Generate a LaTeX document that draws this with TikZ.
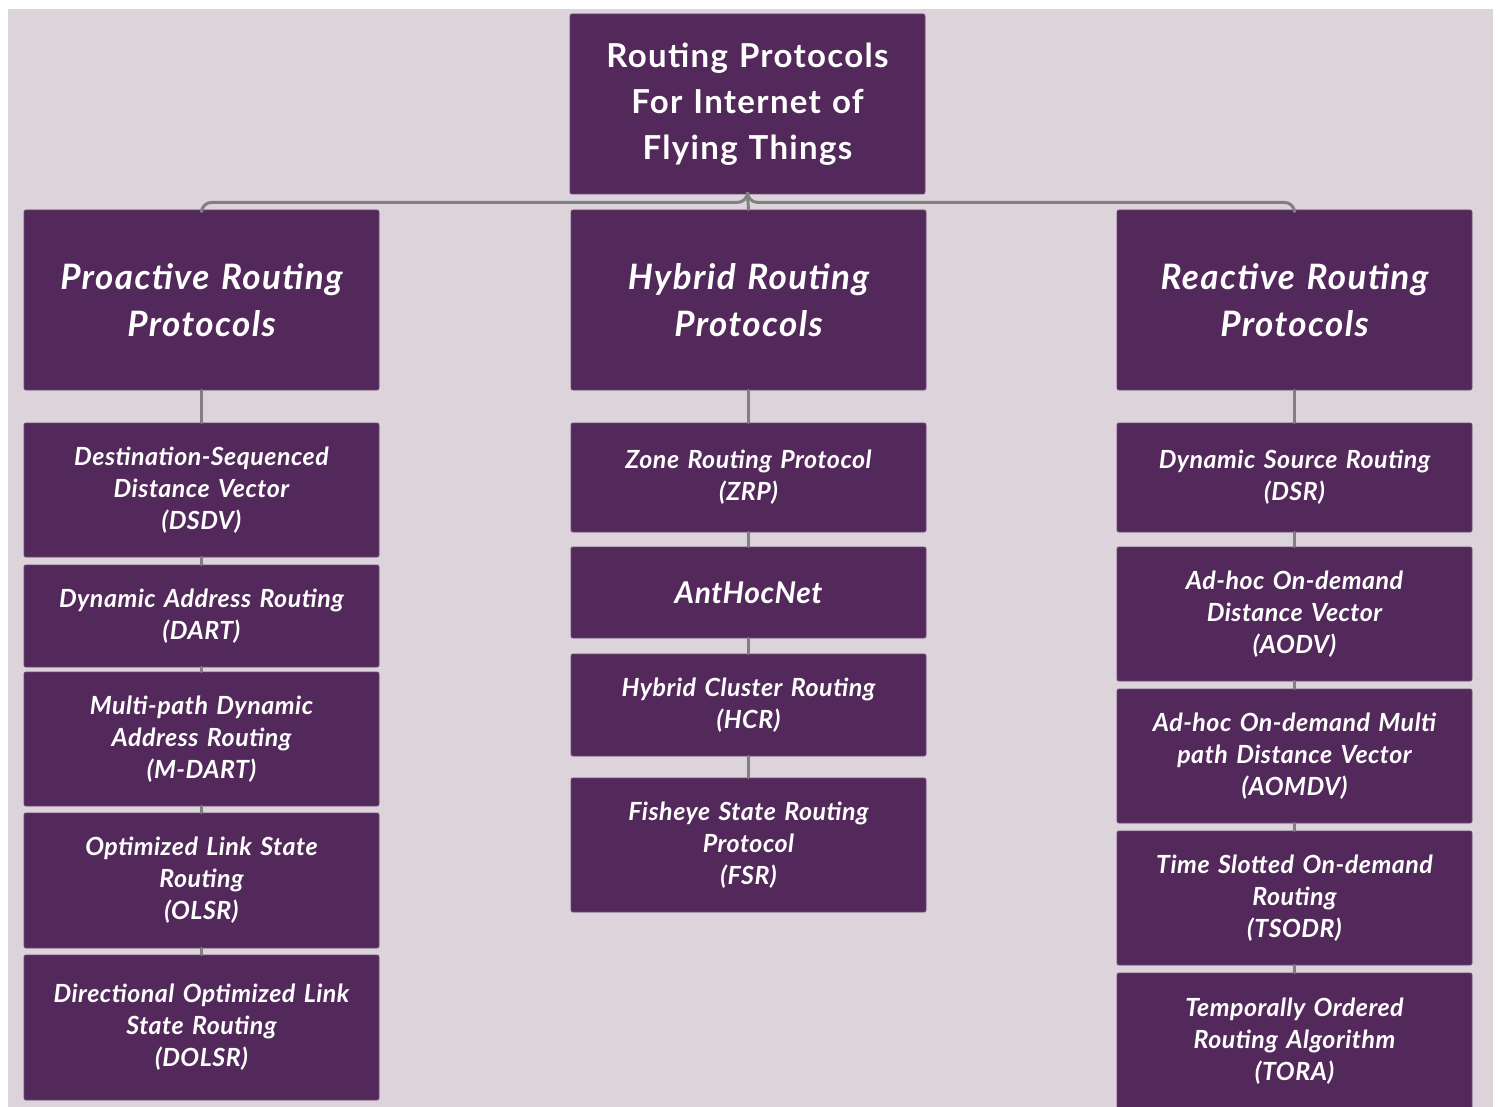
\documentclass[tikz,border=0pt]{standalone}
\usepackage{fontspec}
\setmainfont{Lato}
\newfontfamily\spaced[LetterSpace=4]{Lato}
\newfontfamily\lightspaced[LetterSpace=2]{Lato}
\definecolor{canvas}{HTML}{DCD3DB}
\definecolor{plum}{HTML}{53285A}
\definecolor{plumedge}{HTML}{6E4A74}
\definecolor{link}{HTML}{808080}
\begin{document}
\begin{tikzpicture}[x=1pt,y=-1pt,
  box/.style={fill=plum, draw=plumedge, line width=0.8pt, rounded corners=2pt,
    text=white, align=center, minimum width=355pt, text width=345pt, inner sep=0pt},
  rootbox/.style={box, font=\spaced\fontsize{33}{46}\selectfont\bfseries},
  catbox/.style={box, minimum height=180pt, font=\spaced\fontsize{35}{47}\selectfont\bfseries\itshape},
  itembox/.style={box, font=\lightspaced\fontsize{25}{32}\selectfont\bfseries\itshape},
  wire/.style={draw=link, line width=3pt, line cap=round}
]
\useasboundingbox (0,0) rectangle (1501,1107);
\fill[white] (0,0) rectangle (1501,1107);
\fill[canvas] (8,9) rectangle (1493,1107);
\begin{scope}
\clip (8,9) rectangle (1493,1107);

% root and categories
\node[rootbox, minimum height=180pt] (root) at (747.5,104) {Routing Protocols\\For Internet of\\Flying Things};
\node[catbox] (pro) at (201.5,300) {Proactive Routing\\Protocols};
\node[catbox] (hyb) at (748.5,300) {Hybrid Routing\\Protocols};
\node[catbox] (rea) at (1294.5,300) {Reactive Routing\\Protocols};

% proactive column
\node[itembox, minimum height=134pt] (dsdv) at (201.5,490) {Destination-Sequenced\\Distance Vector\\(DSDV)};
\node[itembox, minimum height=102pt] (dart) at (201.5,616) {Dynamic Address Routing\\(DART)};
\node[itembox, minimum height=134pt] (mdart) at (201.5,739) {Multi-path Dynamic\\Address Routing\\(M-DART)};
\node[itembox, minimum height=135pt] (olsr) at (201.5,880.5) {Optimized Link State\\Routing\\(OLSR)};
\node[itembox, minimum height=145pt] (dolsr) at (201.5,1027.5) {Directional Optimized Link\\State Routing\\(DOLSR)};

% hybrid column
\node[itembox, minimum height=109pt] (zrp) at (748.5,477.5) {Zone Routing Protocol\\(ZRP)};
\node[itembox, minimum height=91pt, font=\lightspaced\fontsize{30}{36}\selectfont\bfseries\itshape] (ant) at (748.5,592.5) {AntHocNet};
\node[itembox, minimum height=102pt] (hcr) at (748.5,705) {Hybrid Cluster Routing\\(HCR)};
\node[itembox, minimum height=134pt] (fsr) at (748.5,845) {Fisheye State Routing\\Protocol\\(FSR)};

% reactive column
\node[itembox, minimum height=109pt] (dsr) at (1294.5,477.5) {Dynamic Source Routing\\(DSR)};
\node[itembox, minimum height=134pt] (aodv) at (1294.5,614) {Ad-hoc On-demand\\Distance Vector\\(AODV)};
\node[itembox, minimum height=134pt] (aomdv) at (1294.5,756) {Ad-hoc On-demand Multi\\path Distance Vector\\(AOMDV)};
\node[itembox, minimum height=134pt] (tsodr) at (1294.5,898) {Time Slotted On-demand\\Routing\\(TSODR)};
\node[itembox, minimum height=136pt] (tora) at (1294.5,1041) {Temporally Ordered\\Routing Algorithm\\(TORA)};

% root to categories
\draw[wire, rounded corners=10pt] (root.south) -- ++(0,8) -| (pro.north);
\draw[wire, rounded corners=10pt] (root.south) -- ++(0,8) -| (rea.north);
\draw[wire] (root.south) -- (hyb.north);

% category and item chains
\foreach \a/\b in {pro/dsdv, dsdv/dart, dart/mdart, mdart/olsr, olsr/dolsr,
                   hyb/zrp, zrp/ant, ant/hcr, hcr/fsr,
                   rea/dsr, dsr/aodv, aodv/aomdv, aomdv/tsodr, tsodr/tora}
  \draw[wire] (\a.south) -- (\b.north);
\end{scope}
\end{tikzpicture}
\end{document}
